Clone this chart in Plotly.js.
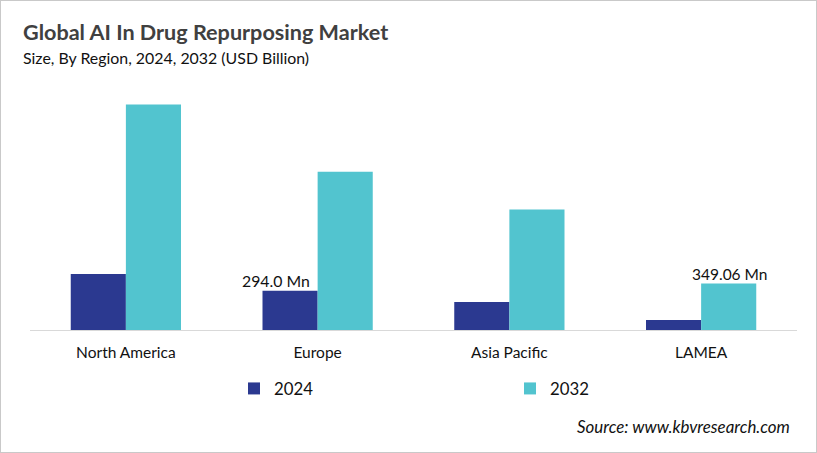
<!DOCTYPE html>
<html>
<head>
<meta charset="utf-8">
<script src="https://cdn.plot.ly/plotly-3.0.1.min.js"></script>
<style>
html,body{margin:0;padding:0;background:#fff;}
#wrap{width:817px;height:453px;box-sizing:border-box;border:1px solid #c9c9c9;overflow:hidden;}
#chart{width:815px;height:451px;}
</style>
</head>
<body>
<div id="wrap"><div id="chart"></div></div>
<script>
const regions = ["North America", "Europe", "Asia Pacific", "LAMEA"];
const values2024 = [420, 294.0, 210, 75];
const values2032 = [1695, 1190, 905, 349.06];
const labels2024 = ["", "294.0 Mn", "", ""];
const labels2032 = ["", "", "", "349.06 Mn"];
const seriesNames = ["2024", "2032"];
const colors = ["#2b3990", "#52c4cf"];

const font = "Lato, 'Open Sans', 'Liberation Sans', sans-serif";

const traces = [
  {type: "bar", name: seriesNames[0], x: regions, y: values2024,
   marker: {color: colors[0]}, hoverinfo: "skip"},
  {type: "bar", name: seriesNames[1], x: regions, y: values2032,
   marker: {color: colors[1]}, hoverinfo: "skip"}
];

// value labels, placed at the data points (offset to sit over the respective bar)
const labelAnns = [];
labels2024.forEach((t, i) => {
  if (t) labelAnns.push({text: t, x: regions[i], y: values2024[i], xref: "x", yref: "y",
    xanchor: "center", yanchor: "bottom", xshift: -42, yshift: -1, showarrow: false,
    font: {size: 15.8, color: "#111", family: font}});
});
labels2032.forEach((t, i) => {
  if (t) labelAnns.push({text: t, x: regions[i], y: values2032[i], xref: "x", yref: "y",
    xanchor: "center", yanchor: "bottom", xshift: 29, yshift: -1, showarrow: false,
    font: {size: 15.5, color: "#111", family: font}});
});

const layout = {
  width: 815, height: 451,
  paper_bgcolor: "#fff", plot_bgcolor: "#fff",
  font: {family: font, color: "#111"},
  margin: {l: 29, r: 19, t: 80, b: 122},
  bargap: 0.425, bargroupgap: 0,
  barmode: "group",
  title: {text: "<b>Global AI In Drug Repurposing Market</b>", x: 0.027, xanchor: "left", y: 0.948, yanchor: "top",
          font: {size: 21.6, color: "#404040", family: font}},
  annotations: [
    {text: "Size, By Region, 2024, 2032 (USD Billion)", xref: "paper", yref: "paper", x: -0.009, y: 1.0, yshift: 24, xshift: -2,
     xanchor: "left", yanchor: "middle", showarrow: false, font: {size: 15.9, color: "#111", family: font}},
    {text: "<i>Source: www.kbvresearch.com</i>", xref: "paper", yref: "paper", x: 1.0, y: 0, yshift: -96, xshift: -5,
     xanchor: "right", yanchor: "middle", showarrow: false, font: {size: 16.9, color: "#111", family: font}}
  ].concat(labelAnns),
  xaxis: {showline: true, linecolor: "#d9d9d9", linewidth: 1, ticks: "", showgrid: false,
          ticklabelstandoff: 8,
          tickfont: {size: 15.5, color: "#111", family: font}, fixedrange: true},
  yaxis: {range: [0, 1871], visible: false, showgrid: false, zeroline: false, fixedrange: true},
  showlegend: true,
  legend: {orientation: "h", x: 0.266, xanchor: "left", y: -0.235, yanchor: "middle",
           entrywidth: 231, entrywidthmode: "pixels", itemwidth: 30,
           font: {size: 16.8, color: "#111", family: font}}
};

Plotly.newPlot("chart", traces, layout, {displayModeBar: false, staticPlot: true});
</script>
</body>
</html>
